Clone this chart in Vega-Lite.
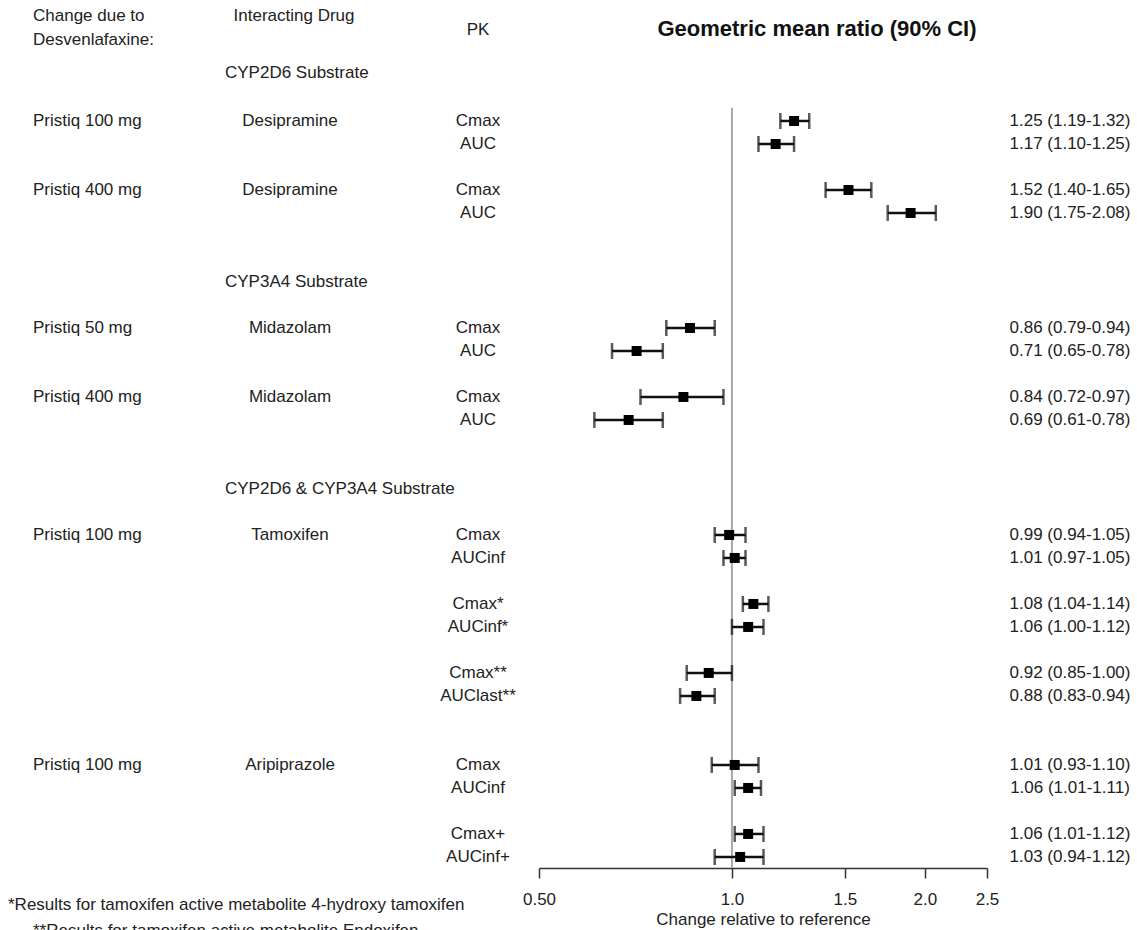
{
  "$schema": "https://vega.github.io/schema/vega-lite/v6.json",
  "padding": {"left": 8, "top": 0, "right": 0, "bottom": 0},
  "bounds": "flush",
  "spacing": 0,
  "config": {
    "view": {"stroke": null},
    "font": "Liberation Sans",
    "text": {"font": "Liberation Sans", "fontSize": 17, "color": "#222222", "baseline": "middle"}
  },
  "datasets": {
    "pk": [
      {"row": 0, "change": "Pristiq 100 mg", "drug": "Desipramine", "pk": "Cmax", "est": 1.25, "lo": 1.19, "hi": 1.32, "ci": "1.25 (1.19-1.32)"},
      {"row": 1, "change": "", "drug": "", "pk": "AUC", "est": 1.17, "lo": 1.10, "hi": 1.25, "ci": "1.17 (1.10-1.25)"},
      {"row": 3, "change": "Pristiq 400 mg", "drug": "Desipramine", "pk": "Cmax", "est": 1.52, "lo": 1.40, "hi": 1.65, "ci": "1.52 (1.40-1.65)"},
      {"row": 4, "change": "", "drug": "", "pk": "AUC", "est": 1.90, "lo": 1.75, "hi": 2.08, "ci": "1.90 (1.75-2.08)"},
      {"row": 9, "change": "Pristiq 50 mg", "drug": "Midazolam", "pk": "Cmax", "est": 0.86, "lo": 0.79, "hi": 0.94, "ci": "0.86 (0.79-0.94)"},
      {"row": 10, "change": "", "drug": "", "pk": "AUC", "est": 0.71, "lo": 0.65, "hi": 0.78, "ci": "0.71 (0.65-0.78)"},
      {"row": 12, "change": "Pristiq 400 mg", "drug": "Midazolam", "pk": "Cmax", "est": 0.84, "lo": 0.72, "hi": 0.97, "ci": "0.84 (0.72-0.97)"},
      {"row": 13, "change": "", "drug": "", "pk": "AUC", "est": 0.69, "lo": 0.61, "hi": 0.78, "ci": "0.69 (0.61-0.78)"},
      {"row": 18, "change": "Pristiq 100 mg", "drug": "Tamoxifen", "pk": "Cmax", "est": 0.99, "lo": 0.94, "hi": 1.05, "ci": "0.99 (0.94-1.05)"},
      {"row": 19, "change": "", "drug": "", "pk": "AUCinf", "est": 1.01, "lo": 0.97, "hi": 1.05, "ci": "1.01 (0.97-1.05)"},
      {"row": 21, "change": "", "drug": "", "pk": "Cmax*", "est": 1.08, "lo": 1.04, "hi": 1.14, "ci": "1.08 (1.04-1.14)"},
      {"row": 22, "change": "", "drug": "", "pk": "AUCinf*", "est": 1.06, "lo": 1.00, "hi": 1.12, "ci": "1.06 (1.00-1.12)"},
      {"row": 24, "change": "", "drug": "", "pk": "Cmax**", "est": 0.92, "lo": 0.85, "hi": 1.00, "ci": "0.92 (0.85-1.00)"},
      {"row": 25, "change": "", "drug": "", "pk": "AUClast**", "est": 0.88, "lo": 0.83, "hi": 0.94, "ci": "0.88 (0.83-0.94)"},
      {"row": 28, "change": "Pristiq 100 mg", "drug": "Aripiprazole", "pk": "Cmax", "est": 1.01, "lo": 0.93, "hi": 1.10, "ci": "1.01 (0.93-1.10)"},
      {"row": 29, "change": "", "drug": "", "pk": "AUCinf", "est": 1.06, "lo": 1.01, "hi": 1.11, "ci": "1.06 (1.01-1.11)"},
      {"row": 31, "change": "", "drug": "", "pk": "Cmax+", "est": 1.06, "lo": 1.01, "hi": 1.12, "ci": "1.06 (1.01-1.12)"},
      {"row": 32, "change": "", "drug": "", "pk": "AUCinf+", "est": 1.03, "lo": 0.94, "hi": 1.12, "ci": "1.03 (0.94-1.12)"}
    ],
    "notes": [
      {"row": -4.55, "col": "change", "text": "Change due to"},
      {"row": -3.5, "col": "change", "text": "Desvenlafaxine:"},
      {"row": -4.55, "col": "drug", "text": "Interacting Drug"},
      {"row": -3.95, "col": "pk", "text": "PK"},
      {"row": -2.1, "col": "group", "text": "CYP2D6 Substrate"},
      {"row": 7, "col": "group", "text": "CYP3A4 Substrate"},
      {"row": 16, "col": "group", "text": "CYP2D6 & CYP3A4 Substrate"},
      {"row": 34.1, "col": "foot1", "text": "*Results for tamoxifen active metabolite 4-hydroxy tamoxifen"},
      {"row": 35.2, "col": "foot2", "text": "**Results for tamoxifen active metabolite Endoxifen"}
    ],
    "title": [
      {"row": -4.0, "text": "Geometric mean ratio (90% CI)"}
    ]
  },
  "hconcat": [
    {
      "width": 531,
      "height": 868,
      "layer": [
        {
          "data": {"name": "pk"},
          "mark": {"type": "text", "align": "left"},
          "encoding": {
            "x": {"value": 25},
            "y": {"field": "row", "type": "quantitative", "scale": {"domain": [-5.26, 32.48], "reverse": true, "nice": false, "zero": false}, "axis": null},
            "text": {"field": "change"}
          }
        },
        {
          "data": {"name": "pk"},
          "mark": {"type": "text", "align": "center"},
          "encoding": {
            "x": {"value": 282},
            "y": {"field": "row", "type": "quantitative", "axis": null},
            "text": {"field": "drug"}
          }
        },
        {
          "data": {"name": "pk"},
          "mark": {"type": "text", "align": "center"},
          "encoding": {
            "x": {"value": 470},
            "y": {"field": "row", "type": "quantitative", "axis": null},
            "text": {"field": "pk"}
          }
        },
        {
          "data": {"name": "notes"},
          "transform": [{"filter": "datum.col == 'change' || datum.col == 'foot2'"}],
          "mark": {"type": "text", "align": "left"},
          "encoding": {
            "x": {"value": 25},
            "y": {"field": "row", "type": "quantitative", "axis": null},
            "text": {"field": "text"}
          }
        },
        {
          "data": {"name": "notes"},
          "transform": [{"filter": "datum.col == 'foot1'"}],
          "mark": {"type": "text", "align": "left"},
          "encoding": {
            "x": {"value": 0},
            "y": {"field": "row", "type": "quantitative", "axis": null},
            "text": {"field": "text"}
          }
        },
        {
          "data": {"name": "notes"},
          "transform": [{"filter": "datum.col == 'group'"}],
          "mark": {"type": "text", "align": "left"},
          "encoding": {
            "x": {"value": 217},
            "y": {"field": "row", "type": "quantitative", "axis": null},
            "text": {"field": "text"}
          }
        },
        {
          "data": {"name": "notes"},
          "transform": [{"filter": "datum.col == 'drug'"}],
          "mark": {"type": "text", "align": "center"},
          "encoding": {
            "x": {"value": 286},
            "y": {"field": "row", "type": "quantitative", "axis": null},
            "text": {"field": "text"}
          }
        },
        {
          "data": {"name": "notes"},
          "transform": [{"filter": "datum.col == 'pk'"}],
          "mark": {"type": "text", "align": "center"},
          "encoding": {
            "x": {"value": 470},
            "y": {"field": "row", "type": "quantitative", "axis": null},
            "text": {"field": "text"}
          }
        }
      ]
    },
    {
      "width": 448,
      "height": 868,
      "layer": [
        {
          "data": {"name": "title"},
          "mark": {"type": "rule", "color": "#a8a8a8", "strokeWidth": 2},
          "encoding": {
            "x": {"datum": 1, "type": "quantitative", "scale": {"type": "log", "domain": [0.5, 2.5], "nice": false}},
            "y": {"datum": -0.57, "type": "quantitative", "scale": {"domain": [-5.26, 32.48], "reverse": true, "nice": false, "zero": false}, "axis": null},
            "y2": {"datum": 32.48}
          }
        },
        {
          "data": {"name": "pk"},
          "mark": {"type": "errorbar", "color": "#111111", "thickness": 2.5, "ticks": {"size": 16, "thickness": 2.5, "color": "#111111"}},
          "encoding": {
            "x": {
              "field": "lo", "type": "quantitative",
              "axis": {
                "values": [0.5, 1, 1.5, 2, 2.5],
                "labelExpr": "datum.value == 0.5 ? '0.50' : format(datum.value, '.1f')",
                "grid": false,
                "domainColor": "#333333",
                "domainWidth": 1.5,
                "tickColor": "#333333",
                "tickWidth": 1.5,
                "tickSize": 10,
                "labelFontSize": 17,
                "labelColor": "#222222",
                "labelPadding": 13,
                "labelFlush": false,
                "labelOverlap": false,
                "title": "Change relative to reference",
                "titleFontSize": 17,
                "titleFontWeight": "normal",
                "titleColor": "#222222",
                "titlePadding": 4
              }
            },
            "x2": {"field": "hi"},
            "y": {"field": "row", "type": "quantitative"}
          }
        },
        {
          "data": {"name": "pk"},
          "mark": {"type": "point", "shape": "square", "filled": true, "size": 100, "color": "#000000", "opacity": 1},
          "encoding": {
            "x": {"field": "est", "type": "quantitative"},
            "y": {"field": "row", "type": "quantitative"}
          }
        },
        {
          "data": {"name": "title"},
          "mark": {"type": "text", "align": "center", "fontSize": 22, "fontWeight": "bold", "color": "#111111", "dx": 54},
          "encoding": {
            "y": {"field": "row", "type": "quantitative"},
            "text": {"field": "text"}
          }
        }
      ]
    },
    {
      "width": 166,
      "height": 868,
      "data": {"name": "pk"},
      "mark": {"type": "text", "align": "center"},
      "encoding": {
        "y": {"field": "row", "type": "quantitative", "scale": {"domain": [-5.26, 32.48], "reverse": true, "nice": false, "zero": false}, "axis": null},
        "text": {"field": "ci"}
      }
    }
  ]
}
